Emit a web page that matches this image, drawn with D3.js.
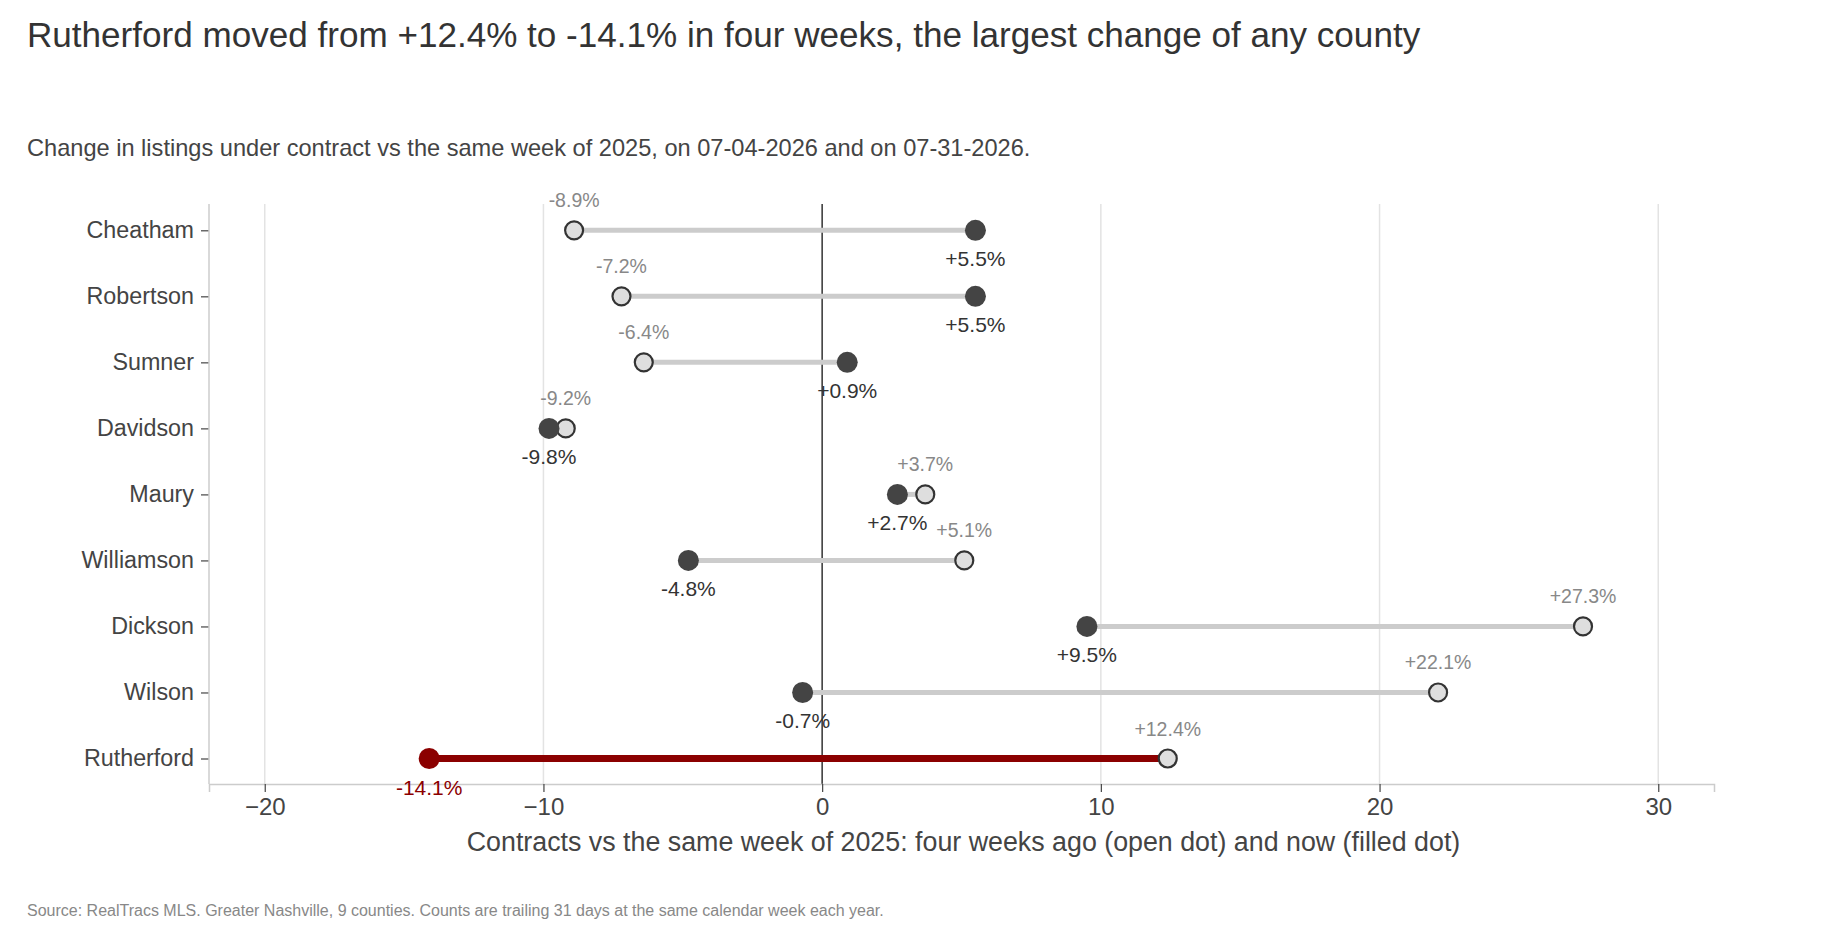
<!DOCTYPE html>
<html>
<head>
<meta charset="utf-8">
<script src="https://cdn.jsdelivr.net/npm/d3@7"></script>
<style>
  html, body { margin: 0; padding: 0; background: #fff; }
  svg { display: block; font-family: "Liberation Sans", Arial, Helvetica, sans-serif; }
</style>
</head>
<body>
<svg id="chart" width="1824" height="928"></svg>
<script>
const counties = ["Cheatham", "Robertson", "Sumner", "Davidson", "Maury", "Williamson", "Dickson", "Wilson", "Rutherford"];
const fourWeeksAgo = [-8.9, -7.2, -6.4, -9.2, 3.7, 5.1, 27.3, 22.1, 12.4];
const now = [5.5, 5.5, 0.9, -9.8, 2.7, -4.8, 9.5, -0.7, -14.1];
const highlight = "Rutherford";
const xTicks = [-20, -10, 0, 10, 20, 30];

const titleText = "Rutherford moved from +12.4% to -14.1% in four weeks, the largest change of any county";
const subtitleText = "Change in listings under contract vs the same week of 2025, on 07-04-2026 and on 07-31-2026.";
const xTitle = "Contracts vs the same week of 2025: four weeks ago (open dot) and now (filled dot)";
const sourceText = "Source: RealTracs MLS. Greater Nashville, 9 counties. Counts are trailing 31 days at the same calendar week each year.";

const svg = d3.select("#chart");
const plot = { left: 209, right: 1714, top: 204, bottom: 784 };

const x = d3.scaleLinear().domain([-22, 32]).range([plot.left, plot.right]);
const y = d3.scalePoint().domain(counties).range([230.3, 758.5]);

const fmt = v => (v > 0 ? "+" : "") + v.toFixed(1) + "%";

// Title / subtitle
svg.append("text").attr("x", 27).attr("y", 47).attr("font-size", 35.1).attr("fill", "#333").text(titleText);
svg.append("text").attr("x", 27).attr("y", 156).attr("font-size", 23.6).attr("fill", "#444").text(subtitleText);

// gridlines
svg.append("g").selectAll("line").data(xTicks.filter(d => d !== 0)).join("line")
  .attr("x1", d => x(d)).attr("x2", d => x(d))
  .attr("y1", plot.top).attr("y2", plot.bottom)
  .attr("stroke", "#e3e3e3").attr("stroke-width", 1.5);

// zero line
svg.append("line").attr("x1", x(0)).attr("x2", x(0)).attr("y1", plot.top).attr("y2", plot.bottom)
  .attr("stroke", "#333").attr("stroke-width", 1.5);

// x axis
const xAxis = svg.append("g").attr("transform", `translate(0,${plot.bottom})`)
  .call(d3.axisBottom(x).tickValues(xTicks).tickSize(8).tickPadding(6).tickFormat(d3.format("d")));
xAxis.select(".domain").attr("stroke", "#ccc").attr("stroke-width", 1.5);
xAxis.selectAll(".tick line").attr("stroke", "#444").attr("stroke-width", 1.2);
xAxis.selectAll(".tick text").attr("font-size", 24).attr("fill", "#444").attr("font-family", "Liberation Sans, Arial, sans-serif");

// y axis
const yAxis = svg.append("g").attr("transform", `translate(${plot.left},0)`)
  .call(d3.axisLeft(y).tickSize(8).tickPadding(7));
yAxis.select(".domain").remove();
svg.append("line").attr("x1", plot.left).attr("x2", plot.left).attr("y1", plot.top).attr("y2", plot.bottom)
  .attr("stroke", "#ccc").attr("stroke-width", 1.5);
yAxis.selectAll(".tick line").attr("stroke", "#444").attr("stroke-width", 1.2);
yAxis.selectAll(".tick text").attr("font-size", 23.3).attr("fill", "#444").attr("font-family", "Liberation Sans, Arial, sans-serif");

// x title
svg.append("text").attr("x", (x(-22) + x(32)) / 2 + 2).attr("y", 851).attr("text-anchor", "middle")
  .attr("font-size", 26.8).attr("fill", "#444").text(xTitle);

// source
svg.append("text").attr("x", 27).attr("y", 916).attr("font-size", 16).attr("fill", "#888").text(sourceText);

const data = counties.map((c, i) => ({ c, before: fourWeeksAgo[i], now: now[i], hi: c === highlight }));

// segments
svg.append("g").selectAll("line").data(data).join("line")
  .attr("x1", d => x(d.before)).attr("x2", d => x(d.now))
  .attr("y1", d => y(d.c)).attr("y2", d => y(d.c))
  .attr("stroke", d => d.hi ? "#8b0000" : "#cccccc")
  .attr("stroke-width", d => d.hi ? 7 : 5);

// open dots
svg.append("g").selectAll("circle").data(data).join("circle")
  .attr("cx", d => x(d.before)).attr("cy", d => y(d.c)).attr("r", 9)
  .attr("fill", "#dedede").attr("stroke", "#333").attr("stroke-width", 2.2);

// filled dots
svg.append("g").selectAll("circle").data(data).join("circle")
  .attr("cx", d => x(d.now)).attr("cy", d => y(d.c)).attr("r", 10.5)
  .attr("fill", d => d.hi ? "#8b0000" : "#444");

// labels
svg.append("g").selectAll("text").data(data).join("text")
  .attr("x", d => x(d.before)).attr("y", d => y(d.c) - 23).attr("text-anchor", "middle")
  .attr("font-size", 19.5).attr("fill", "#888").text(d => fmt(d.before));
svg.append("g").selectAll("text").data(data).join("text")
  .attr("x", d => x(d.now)).attr("y", d => y(d.c) + 36).attr("text-anchor", "middle")
  .attr("font-size", 21).attr("fill", d => d.hi ? "#8b0000" : "#333").text(d => fmt(d.now));
</script>
</body>
</html>
